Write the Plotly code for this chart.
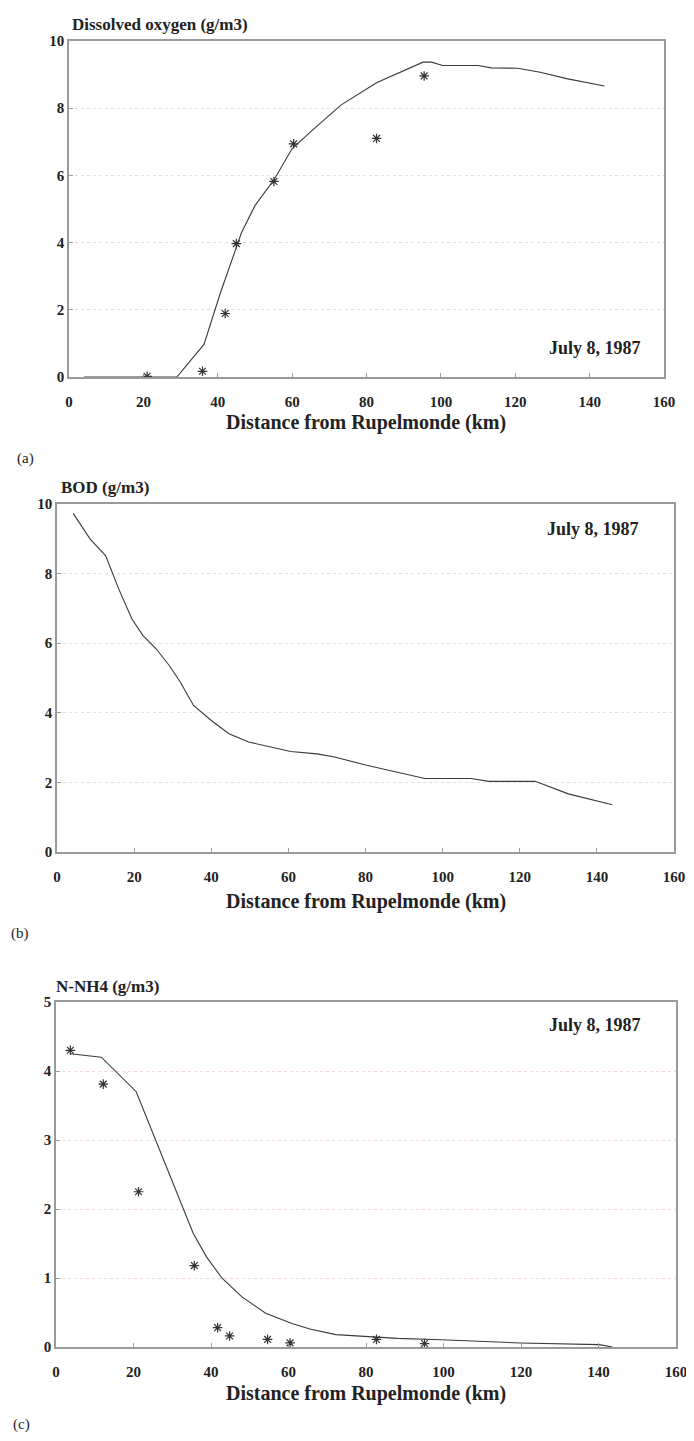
import plotly.graph_objects as go

# The page body adds an 8px margin on every side, so the figure is made
# smaller and all positions below are given in screenshot pixels, shifted by OFF.
OFF = 8
W, H = 694 - 2 * OFF, 1441 - 2 * OFF

# ---- Data ----
do_model_x = [4, 12, 20, 29, 36.3, 40.7, 46.4, 50, 55.3, 60, 66, 73.2, 82.7, 95.2, 97.5, 100.5, 110, 113.6, 120.7, 126.7, 133.8, 144]
do_model_y = [0, 0, 0, 0, 0.97, 2.5, 4.3, 5.1, 5.9, 6.8, 7.4, 8.1, 8.76, 9.37, 9.37, 9.27, 9.27, 9.2, 9.19, 9.07, 8.88, 8.66]
do_obs_x = [21, 35.9, 42, 45, 55.1, 60.4, 82.7, 95.5]
do_obs_y = [0.02, 0.17, 1.89, 3.97, 5.82, 6.94, 7.1, 8.96]

bod_x = [4.2, 8.6, 12.6, 16, 19.4, 22.3, 25.7, 29.1, 32, 35.4, 40, 44.6, 49.7, 53.7, 60.6, 67.4, 72, 80, 86.9, 95.4, 107.4, 112, 124, 132.6, 144]
bod_y = [9.73, 8.99, 8.52, 7.56, 6.7, 6.22, 5.84, 5.36, 4.88, 4.21, 3.78, 3.4, 3.16, 3.06, 2.89, 2.82, 2.73, 2.5, 2.32, 2.11, 2.11, 2.03, 2.03, 1.67, 1.36]

nh4_model_x = [3.7, 11.7, 20.7, 23.6, 26.4, 29.8, 32.6, 35.4, 38.8, 42.8, 47.9, 54.1, 60.9, 65.5, 72.2, 81.3, 88.1, 99.4, 119.8, 140.2, 143.6]
nh4_model_y = [4.25, 4.2, 3.70, 3.29, 2.9, 2.42, 2.03, 1.65, 1.31, 1.0, 0.73, 0.49, 0.34, 0.26, 0.18, 0.15, 0.125, 0.106, 0.058, 0.034, 0.0]
nh4_obs_x = [3.7, 12.2, 21.3, 35.7, 41.7, 44.8, 54.6, 60.4, 82.7, 95.1]
nh4_obs_y = [4.30, 3.81, 2.25, 1.18, 0.28, 0.16, 0.11, 0.06, 0.11, 0.05]

x_ticks = [0, 20, 40, 60, 80, 100, 120, 140, 160]
titles = ["Dissolved oxygen (g/m3)", "BOD (g/m3)", "N-NH4 (g/m3)"]
date_label = "July 8, 1987"
x_title = "Distance from Rupelmonde (km)"
panel_labels = ["(a)", "(b)", "(c)"]

# ---- Layout geometry (screenshot pixels) ----
panels = [
    dict(x0=69, x1=664, y0=41, y1=377, ymax=10, yticks=[0, 2, 4, 6, 8, 10]),
    dict(x0=57, x1=674, y0=504, y1=852, ymax=10, yticks=[0, 2, 4, 6, 8, 10]),
    dict(x0=56, x1=676, y0=1002, y1=1347, ymax=5, yticks=[0, 1, 2, 3, 4, 5]),
]

FONT = "Liberation Serif"
LINE_COL = "#3a3a3a"
AX_COL = "#9a9a9a"
GRID_COL = "rgba(225,185,185,0.55)"

fig = go.Figure()

def px(x):
    return (x - OFF) / W

def py(y):
    return 1 - (y - OFF) / H

series = [
    (do_model_x, do_model_y, do_obs_x, do_obs_y),
    (bod_x, bod_y, None, None),
    (nh4_model_x, nh4_model_y, nh4_obs_x, nh4_obs_y),
]

for i, (p, (mx, my, ox, oy)) in enumerate(zip(panels, series)):
    n = "" if i == 0 else str(i + 1)
    xa, ya = "x" + n, "y" + n
    fig.add_trace(go.Scatter(x=mx, y=my, mode="lines", xaxis=xa, yaxis=ya,
                             line=dict(color=LINE_COL, width=1.1), showlegend=False))
    if ox is not None:
        fig.add_trace(go.Scatter(x=ox, y=oy, mode="markers", xaxis=xa, yaxis=ya,
                                 marker=dict(symbol="asterisk-open", size=8, color="#333333",
                                             line=dict(color="#333333", width=1.2)),
                                 showlegend=False))
    axis_common = dict(showline=True, mirror=True, linecolor=AX_COL, linewidth=1.5,
                       ticks="inside", ticklen=4, tickcolor=AX_COL, zeroline=False,
                       automargin=False, ticklabeloverflow="allow",
                       tickfont=dict(family=FONT, size=15, color="#222", weight="bold"))
    fig.layout["xaxis" + n] = dict(domain=[px(p["x0"]), px(p["x1"])], anchor=ya,
                                   range=[0, 160], tickvals=x_ticks, showgrid=False,
                                   ticklabelstandoff=10, **axis_common)
    fig.layout["yaxis" + n] = dict(domain=[py(p["y1"]), py(p["y0"])], anchor=xa,
                                   range=[0, p["ymax"]], tickvals=p["yticks"],
                                   showgrid=True, gridcolor=GRID_COL, griddash="dot",
                                   gridwidth=1, **axis_common)

annotations = []
title_pos = [(70, 25), (59, 488), (54, 987)]
date_pos = [(643, 348), (641, 529), (643, 1025)]
xt_pos = [(366, 422), (366, 901), (366, 1393)]
pl_pos = [(15, 458), (9, 933), (11, 1424)]
for i in range(3):
    annotations.append(dict(text=titles[i], x=px(title_pos[i][0]), y=py(title_pos[i][1]),
                            xref="paper", yref="paper", xanchor="left", yanchor="middle",
                            showarrow=False, font=dict(family=FONT, size=17, color="#222", weight="bold")))
    annotations.append(dict(text=date_label, x=px(date_pos[i][0]), y=py(date_pos[i][1]),
                            xref="paper", yref="paper", xanchor="right", yanchor="middle",
                            showarrow=False, font=dict(family=FONT, size=18, color="#222", weight="bold")))
    annotations.append(dict(text=x_title, x=px(xt_pos[i][0]), y=py(xt_pos[i][1]),
                            xref="paper", yref="paper", xanchor="center", yanchor="middle",
                            showarrow=False, font=dict(family=FONT, size=20, color="#222", weight="bold")))
    annotations.append(dict(text=panel_labels[i], x=px(pl_pos[i][0]), y=py(pl_pos[i][1]),
                            xref="paper", yref="paper", xanchor="left", yanchor="middle",
                            showarrow=False, font=dict(family=FONT, size=15, color="#222")))

fig.update_layout(width=W, height=H, autosize=False,
                  margin=dict(l=0, r=0, t=0, b=0, autoexpand=False),
                  paper_bgcolor="white", plot_bgcolor="white",
                  annotations=annotations, showlegend=False)

fig.write_html("out.html")
